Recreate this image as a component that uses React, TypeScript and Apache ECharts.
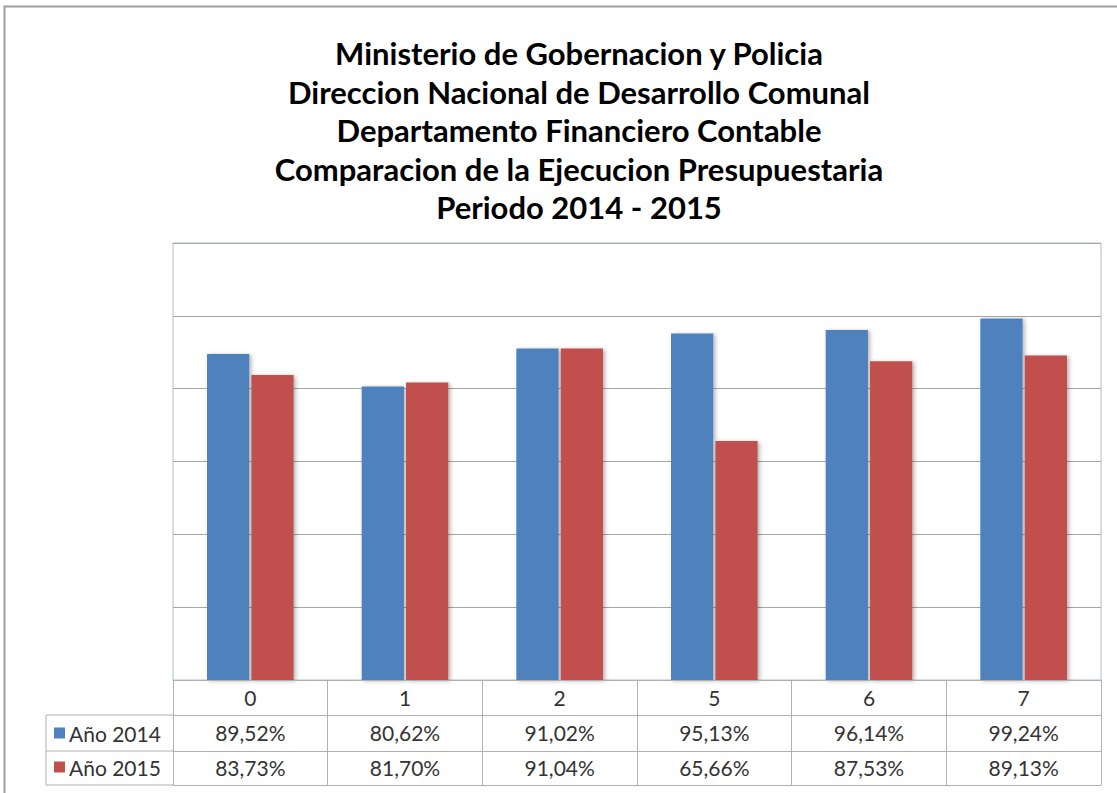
import React, { useEffect, useRef } from "react";
import * as echarts from "echarts";

const titleLines = [
  "Ministerio de Gobernacion y Policia",
  "Direccion Nacional de Desarrollo Comunal",
  "Departamento Financiero Contable",
  "Comparacion de la Ejecucion Presupuestaria",
  "Periodo 2014 - 2015",
];
const categories = ["0", "1", "2", "5", "6", "7"];
const seriesNames = ["Año 2014", "Año 2015"];
const values2014 = [89.52, 80.62, 91.02, 95.13, 96.14, 99.24];
const values2015 = [83.73, 81.7, 91.04, 65.66, 87.53, 89.13];
const yTicks = { min: 0, max: 120, interval: 20 };

const FONT = "Lato, 'Open Sans', sans-serif";
const GRID_LINE = "#a6a6a6";
const TABLE_LINE = "#b0b0b0";
const fmt = (v: number) => v.toFixed(2).replace(".", ",") + "%";

export default function App() {
  const ref = useRef<HTMLDivElement>(null);
  useEffect(() => {
    if (!ref.current) return;
    const chart = echarts.init(ref.current, undefined, { renderer: "svg" });
    const gridLeft = 173;
    const gridRight = 16;
    const gridTop = 243;
    const gridBottomY = 680;
    const tableLeft = 46;
    const row1 = 715;
    const row2 = 751;
    const row3 = 785;
    const labelStyle = { fontFamily: FONT, fontSize: 21, color: "#333" };
    chart.setOption({
      animation: false,
      backgroundColor: "#ffffff",
      title: {
        text: titleLines.join("\n"),
        left: 574,
        top: 29,
        textAlign: "center",
        textStyle: {
          fontFamily: FONT,
          fontWeight: "bold",
          fontSize: 31,
          lineHeight: 38.5,
          color: "#000",
        },
      },
      legend: {
        orient: "vertical",
        left: 54,
        top: 722,
        padding: 0,
        itemWidth: 11,
        itemHeight: 11,
        itemGap: 12,
        icon: "rect",
        data: seriesNames,
        textStyle: { ...labelStyle, lineHeight: 22, padding: [0, 0, 0, -1] },
      },
      grid: {
        left: gridLeft,
        right: gridRight,
        top: gridTop,
        bottom: 793 - gridBottomY,
        show: true,
        backgroundColor: "#ffffff",
        borderColor: "#a9bcd9",
        borderWidth: 1,
      },
      xAxis: [
        {
          type: "category",
          data: categories,
          position: "bottom",
          axisLine: { show: true, lineStyle: { color: TABLE_LINE } },
          axisTick: { show: true, length: row3 - gridBottomY, lineStyle: { color: TABLE_LINE } },
          axisLabel: { ...labelStyle, margin: 7, interval: 0 },
          splitLine: { show: false },
          z: 5,
        },
        {
          type: "category",
          data: categories,
          position: "bottom",
          offset: row1 - gridBottomY,
          axisLine: { show: true, lineStyle: { color: TABLE_LINE } },
          axisTick: { show: false },
          axisLabel: {
            ...labelStyle,
            margin: 7,
            interval: 0,
            formatter: (_v: string, i: number) => fmt(values2014[i]),
          },
        },
        {
          type: "category",
          data: categories,
          position: "bottom",
          offset: row2 - gridBottomY,
          axisLine: { show: true, lineStyle: { color: TABLE_LINE } },
          axisTick: { show: false },
          axisLabel: {
            ...labelStyle,
            margin: 6,
            interval: 0,
            formatter: (_v: string, i: number) => fmt(values2015[i]),
          },
        },
        {
          type: "category",
          data: categories,
          position: "bottom",
          offset: row3 - gridBottomY,
          axisLine: { show: true, lineStyle: { color: TABLE_LINE } },
          axisTick: { show: false },
          axisLabel: { show: false },
        },
      ],
      yAxis: {
        type: "value",
        min: yTicks.min,
        max: yTicks.max,
        interval: yTicks.interval,
        axisLabel: { show: false },
        axisLine: { show: false },
        axisTick: { show: false },
        splitLine: { show: true, lineStyle: { color: GRID_LINE, width: 1 } },
      },
      series: [
        {
          name: seriesNames[0],
          type: "bar",
          xAxisIndex: 0,
          data: values2014,
          barGap: "5%",
          barCategoryGap: "44%",
          itemStyle: {
            color: "#4f81bd",
            shadowColor: "rgba(0,0,0,0.3)",
            shadowBlur: 4,
            shadowOffsetX: 2,
            shadowOffsetY: 1,
          },
        },
        {
          name: seriesNames[1],
          type: "bar",
          xAxisIndex: 0,
          data: values2015,
          barGap: "5%",
          barCategoryGap: "44%",
          itemStyle: {
            color: "#c0504d",
            shadowColor: "rgba(0,0,0,0.3)",
            shadowBlur: 4,
            shadowOffsetX: 2,
            shadowOffsetY: 1,
          },
        },
      ],
      graphic: [
        {
          type: "rect",
          shape: { x: 4.5, y: 6.5, width: 1300, height: 1000 },
          style: { fill: "none", stroke: "#a0a0a0", lineWidth: 2 },
          silent: true,
        },
        {
          type: "line",
          shape: { x1: tableLeft, y1: row1, x2: gridLeft, y2: row1 },
          style: { stroke: TABLE_LINE, lineWidth: 1 },
        },
        {
          type: "line",
          shape: { x1: tableLeft, y1: row2, x2: gridLeft, y2: row2 },
          style: { stroke: TABLE_LINE, lineWidth: 1 },
        },
        {
          type: "line",
          shape: { x1: tableLeft, y1: row3, x2: gridLeft, y2: row3 },
          style: { stroke: TABLE_LINE, lineWidth: 1 },
        },
        {
          type: "line",
          shape: { x1: tableLeft, y1: row1, x2: tableLeft, y2: row3 },
          style: { stroke: TABLE_LINE, lineWidth: 1 },
        },
      ],
    });
    return () => chart.dispose();
  }, []);
  return (
    <div
      ref={ref}
      style={{ position: "fixed", left: 0, top: 0, width: 1117, height: 793 }}
    />
  );
}
